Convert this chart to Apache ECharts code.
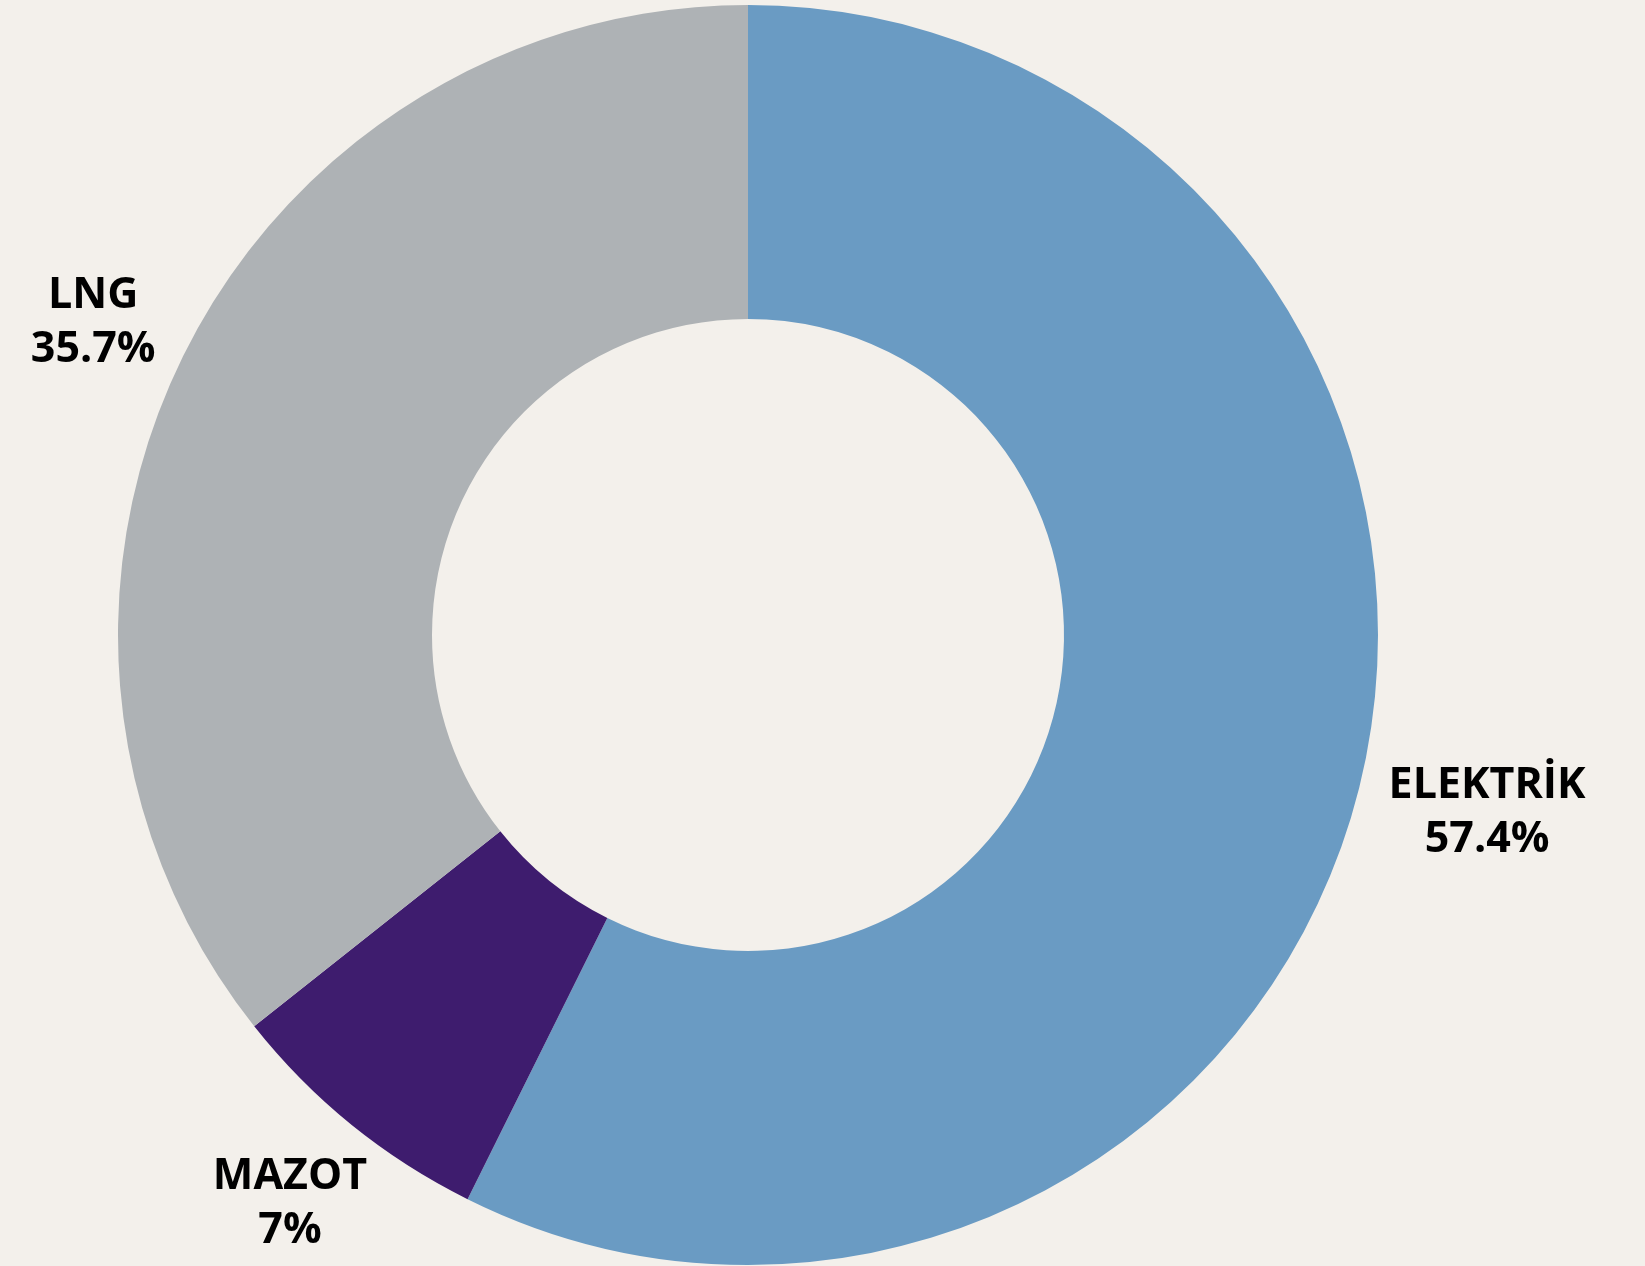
<!DOCTYPE html>
<html>
<head>
<meta charset="utf-8">
<script src="https://cdn.jsdelivr.net/npm/echarts@6/dist/echarts.min.js"></script>
<style>
  html, body { margin: 0; padding: 0; background: #f3f0eb; }
  #main { width: 1645px; height: 1266px; }
</style>
</head>
<body>
<div id="main"></div>
<script>
var names = ['ELEKTRİK', 'MAZOT', 'LNG'];
var values = [57.4, 7, 35.7];
var colors = ['#6a9bc3', '#3e1c6e', '#aeb2b5'];

var cx = 748, cy = 635;
var innerR = 316, outerR = 630;
var labelGap = 28;   // space between ring and label box, like excel "outside end"

var datas = [];
for (var i = 0; i < names.length; i++) {
    datas.push({name: names[i], value: values[i], itemStyle: {color: colors[i]}});
}

var myChart = echarts.init(document.getElementById('main'));

var option = {
    backgroundColor: '#f3f0eb',
    animation: false,
    series: [{
        name: 'yakit',
        type: 'pie',
        center: [cx, cy],
        radius: [innerR, outerR],
        startAngle: 90,
        clockwise: true,
        silent: true,
        label: {
            show: true,
            position: 'inside',
            formatter: '{b}\n{c}%',
            color: '#000',
            fontFamily: 'Open Sans',
            fontWeight: 'bold',
            fontSize: 43,
            lineHeight: 54
        },
        labelLine: {show: false},
        // push the labels out along the slice middle until the box clears the ring
        labelLayout: function (params) {
            var r = params.labelRect;
            var lx = r.x + r.width / 2, ly = r.y + r.height / 2;
            var dx = lx - cx, dy = ly - cy;
            var len = Math.sqrt(dx * dx + dy * dy);
            dx /= len; dy /= len;
            var t = Math.min(
                Math.abs(dx) > 1e-6 ? (r.width / 2) / Math.abs(dx) : 1e9,
                Math.abs(dy) > 1e-6 ? (r.height / 2) / Math.abs(dy) : 1e9
            );
            var d = outerR + labelGap + t;
            return {
                x: cx + dx * d,
                y: cy + dy * d + 4,
                align: 'center',
                verticalAlign: 'middle'
            };
        },
        data: datas
    }]
};
myChart.setOption(option);
window.onresize = myChart.resize;
</script>
</body>
</html>
